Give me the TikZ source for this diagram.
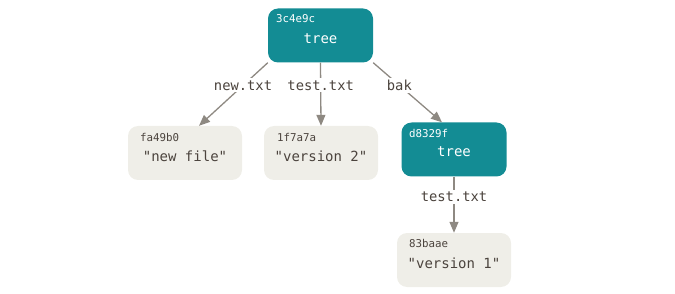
\documentclass[tikz,border=0pt]{standalone}
\usepackage{fontspec}
\setmonofont{DejaVu Sans Mono}
\usetikzlibrary{arrows.meta}
\definecolor{treeteal}{HTML}{138C94}
\definecolor{blobbg}{HTML}{EFEEE8}
\definecolor{inkdark}{HTML}{4B433D}
\definecolor{linkgray}{HTML}{8E8982}
\tikzset{
  objbox/.style={rectangle, rounded corners=10pt, minimum height=54pt, inner sep=0pt},
  treebox/.style={objbox, fill=treeteal, minimum width=105pt},
  blobbox/.style={objbox, fill=blobbg, minimum width=114pt},
  hashtxt/.style={anchor=west, inner sep=0pt, font=\ttfamily\fontsize{10.8}{12}\selectfont},
  bodytxt/.style={inner sep=0pt, font=\ttfamily\fontsize{14}{16}\selectfont},
  link/.style={draw=linkgray, line width=1.3pt, -{Triangle[length=11pt,width=9pt]}},
  linklabel/.style={fill=white, inner sep=2pt, text=inkdark, font=\ttfamily\fontsize{13.8}{16}\selectfont}
}
\begin{document}
\begin{tikzpicture}[x=1pt,y=-1pt]
\useasboundingbox (0,0) rectangle (675,294);
% objects
\node[treebox] (root) at (320.5,35.5) {};
\node[hashtxt, text=white] (roothash) at (276,19) {3c4e9c};
\node[bodytxt, text=white] (roottxt) at (320.5,39) {tree};

\node[blobbox] (newf) at (185,153) {};
\node[hashtxt, text=inkdark] (newfhash) at (140,137) {fa49b0};
\node[bodytxt, text=inkdark] (newftxt) at (185,156) {"new file"};

\node[blobbox] (v2) at (321,153) {};
\node[hashtxt, text=inkdark] (v2hash) at (277,137) {1f7a7a};
\node[bodytxt, text=inkdark] (v2txt) at (321,156) {"version 2"};

\node[treebox] (bak) at (454,149.5) {};
\node[hashtxt, text=white] (bakhash) at (409,133) {d8329f};
\node[bodytxt, text=white] (baktxt) at (454,152) {tree};

\node[blobbox] (v1) at (454,260) {};
\node[hashtxt, text=inkdark] (v1hash) at (409,243) {83baae};
\node[bodytxt, text=inkdark] (v1txt) at (454,263) {"version 1"};

% links between objects
\draw[link] (root.south west) -- ([xshift=14pt]newf.north)
  node[linklabel, pos=0.36] {new.txt};
\draw[link] (root.south) -- (v2.north)
  node[linklabel, pos=0.36] {test.txt};
\draw[link] (root.south east) -- ([xshift=-12pt]bak.north)
  node[linklabel, pos=0.38] {bak};
\draw[link] (bak.south) -- (v1.north)
  node[linklabel, pos=0.36] {test.txt};
\end{tikzpicture}
\end{document}
